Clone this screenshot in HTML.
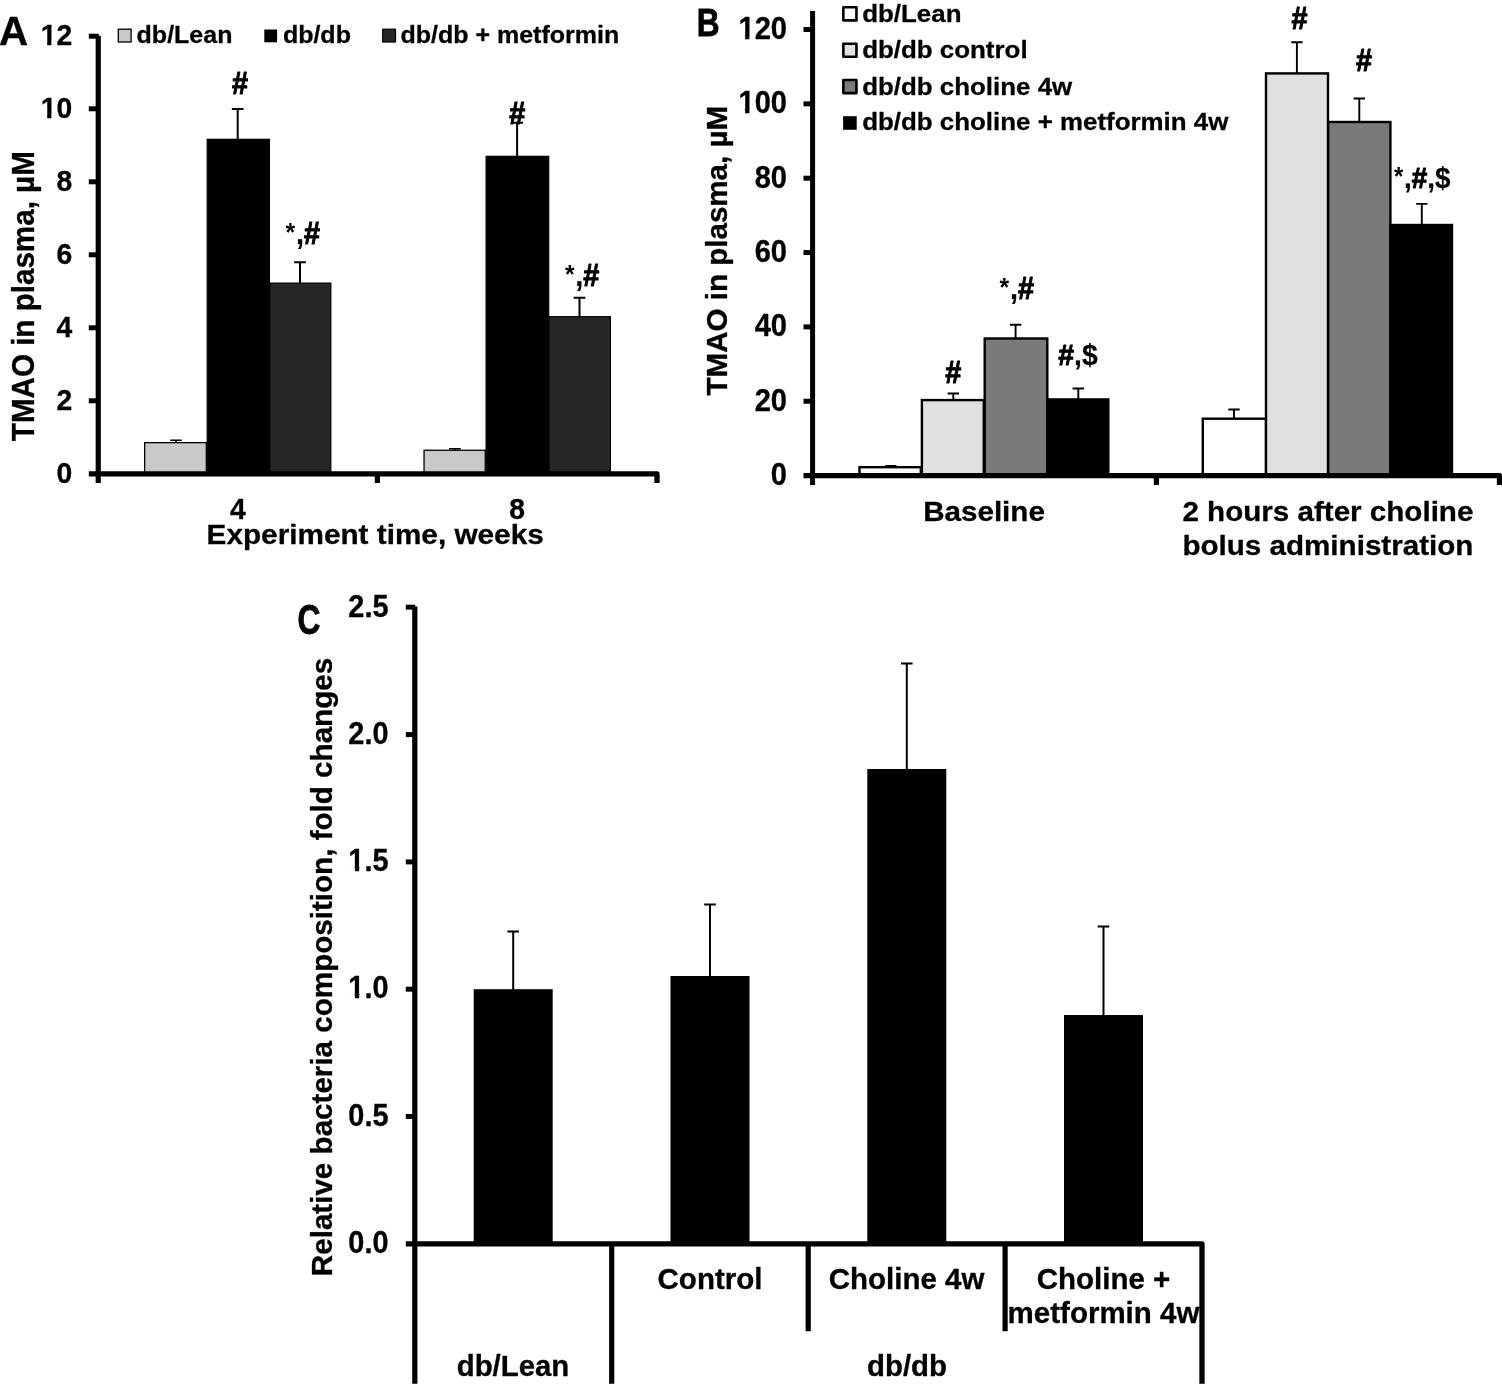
<!DOCTYPE html>
<html lang="en">
<head>
<meta charset="utf-8">
<title>TMAO in plasma and relative bacteria composition</title>
<style>
html,body{margin:0;padding:0;background:#fff;}
body{width:1502px;height:1387px;overflow:hidden;}
svg{display:block;}
svg text{font-family:"Liberation Sans", sans-serif;font-weight:bold;fill:#000;}
</style>
</head>
<body>
<svg width="1502" height="1387" viewBox="0 0 1502 1387">
<rect x="0" y="0" width="1502" height="1387" fill="#fff"/>
<g id="panelA">
<path d="M170.15 440.20H181.85M176.00 440.20V443.00" stroke="#000" stroke-width="1.5" fill="none"/>
<path d="M231.85 109.00H243.55M237.70 109.00V140.00" stroke="#000" stroke-width="2.0" fill="none"/>
<path d="M294.15 262.20H305.85M300.00 262.20V284.00" stroke="#000" stroke-width="2.0" fill="none"/>
<path d="M449.05 448.80H460.75M454.90 448.80V451.00" stroke="#000" stroke-width="1.5" fill="none"/>
<path d="M511.25 122.80H522.95M517.10 122.80V157.00" stroke="#000" stroke-width="2.0" fill="none"/>
<path d="M573.65 297.70H585.35M579.50 297.70V318.00" stroke="#000" stroke-width="2.0" fill="none"/>
<rect x="144.65" y="442.65" width="61.70" height="31.15" fill="#c8c8c8" stroke="#000" stroke-width="1.3"/>
<rect x="269.80" y="283.10" width="61.00" height="190.70" fill="#262626" stroke="#000" stroke-width="1.2"/>
<rect x="207.20" y="139.30" width="62.20" height="334.50" fill="#000" stroke="#000" stroke-width="1.2"/>
<rect x="424.05" y="450.25" width="61.20" height="23.55" fill="#c8c8c8" stroke="#000" stroke-width="1.3"/>
<rect x="549.10" y="316.70" width="61.30" height="157.10" fill="#262626" stroke="#000" stroke-width="1.2"/>
<rect x="486.10" y="156.30" width="62.60" height="317.50" fill="#000" stroke="#000" stroke-width="1.2"/>
<line x1="98.25" y1="35.8" x2="98.25" y2="483" stroke="#000" stroke-width="5.2"/>
<path d="M88.8 473.8H657V483" stroke="#000" stroke-width="5.3" fill="none" stroke-linejoin="round"/>
<text transform="translate(72.2 482.7) scale(1 1.07)" font-size="28.3" text-anchor="end" stroke="#000" stroke-width="0.3" stroke-linejoin="round">0</text>
<line x1="88.8" y1="400.8" x2="98.25" y2="400.8" stroke="#000" stroke-width="5"/>
<text transform="translate(72.2 409.7) scale(1 1.07)" font-size="28.3" text-anchor="end" stroke="#000" stroke-width="0.3" stroke-linejoin="round">2</text>
<line x1="88.8" y1="327.8" x2="98.25" y2="327.8" stroke="#000" stroke-width="5"/>
<text transform="translate(72.2 336.7) scale(1 1.07)" font-size="28.3" text-anchor="end" stroke="#000" stroke-width="0.3" stroke-linejoin="round">4</text>
<line x1="88.8" y1="254.8" x2="98.25" y2="254.8" stroke="#000" stroke-width="5"/>
<text transform="translate(72.2 263.7) scale(1 1.07)" font-size="28.3" text-anchor="end" stroke="#000" stroke-width="0.3" stroke-linejoin="round">6</text>
<line x1="88.8" y1="181.8" x2="98.25" y2="181.8" stroke="#000" stroke-width="5"/>
<text transform="translate(72.2 190.70000000000002) scale(1 1.07)" font-size="28.3" text-anchor="end" stroke="#000" stroke-width="0.3" stroke-linejoin="round">8</text>
<line x1="88.8" y1="108.80000000000001" x2="98.25" y2="108.80000000000001" stroke="#000" stroke-width="5"/>
<text transform="translate(72.2 117.70000000000002) scale(1 1.07)" font-size="28.3" text-anchor="end" stroke="#000" stroke-width="0.3" stroke-linejoin="round">10</text>
<path d="M41.80 113.26H46.68V114.46H47.18V119.20H41.80ZM56.27 113.26H51.86V114.46H51.36V119.20H56.27Z" fill="#fff"/>
<line x1="88.8" y1="36.2" x2="98.75" y2="36.2" stroke="#000" stroke-width="5"/>
<text transform="translate(72.2 44.70000000000001) scale(1 1.07)" font-size="28.3" text-anchor="end" stroke="#000" stroke-width="0.3" stroke-linejoin="round">12</text>
<path d="M41.80 40.26H46.68V41.46H47.18V46.20H41.80ZM56.27 40.26H51.86V41.46H51.36V46.20H56.27Z" fill="#fff"/>
<line x1="377.4" y1="473.8" x2="377.4" y2="483" stroke="#000" stroke-width="5.2"/>
<text transform="translate(237.9 518.8) scale(1 1.04)" font-size="28.3" text-anchor="middle" stroke="#000" stroke-width="0.3" stroke-linejoin="round">4</text>
<text transform="translate(517.2 518.8) scale(1 1.04)" font-size="28.3" text-anchor="middle" stroke="#000" stroke-width="0.3" stroke-linejoin="round">8</text>
<text transform="translate(375.15 544.2) scale(1 0.935)" font-size="29.75" text-anchor="middle" stroke="#000" stroke-width="0.3" stroke-linejoin="round">Experiment time, weeks</text>
<text transform="translate(33.8 296.2) rotate(-90) scale(1 1.045)" font-size="29.6" text-anchor="middle" stroke="#000" stroke-width="0.3" stroke-linejoin="round">TMAO in plasma, µM</text>
<text transform="translate(-1.0 45.2) scale(1 1.015)" font-size="40.3" text-anchor="start" stroke="#000" stroke-width="0.3" stroke-linejoin="round">A</text>
<rect x="118.30" y="29.20" width="12.80" height="12.80" fill="#c8c8c8" stroke="#000" stroke-width="1.3"/>
<text transform="translate(136.6 43.3) scale(1 0.94)" font-size="25" text-anchor="start" stroke="#000" stroke-width="0.3" stroke-linejoin="round">db/Lean</text>
<rect x="264.30" y="29.50" width="12.80" height="12.80" fill="#000"/>
<text transform="translate(282.9 43.3) scale(1 0.94)" font-size="25" text-anchor="start" stroke="#000" stroke-width="0.3" stroke-linejoin="round">db/db</text>
<rect x="382.70" y="29.20" width="12.80" height="12.80" fill="#262626" stroke="#000" stroke-width="1.2"/>
<text transform="translate(400.5 43.3) scale(1 0.94)" font-size="25" text-anchor="start" stroke="#000" stroke-width="0.3" stroke-linejoin="round">db/db + metformin</text>
<text transform="translate(239.9 94.4) scale(0.96 1.03)" font-size="30" text-anchor="middle" stroke="#000" stroke-width="0.2" stroke-linejoin="round"><tspan stroke-width="1.0">#</tspan></text>
<text transform="translate(302 244.4) scale(0.96 1.03)" font-size="30" text-anchor="middle" stroke="#000" stroke-width="0.2" stroke-linejoin="round"><tspan font-size="25.8" dx="0.8" dy="-3" stroke-width="0">*</tspan><tspan dx="0.8" dy="3" stroke-width="0.2">,</tspan><tspan stroke-width="1.0">#</tspan></text>
<text transform="translate(517.3 124.1) scale(0.96 1.03)" font-size="30" text-anchor="middle" stroke="#000" stroke-width="0.2" stroke-linejoin="round"><tspan stroke-width="1.0">#</tspan></text>
<text transform="translate(581.4 285.9) scale(0.96 1.03)" font-size="30" text-anchor="middle" stroke="#000" stroke-width="0.2" stroke-linejoin="round"><tspan font-size="25.8" dx="0.8" dy="-3" stroke-width="0">*</tspan><tspan dx="0.8" dy="3" stroke-width="0.2">,</tspan><tspan stroke-width="1.0">#</tspan></text>
</g>
<g id="panelB">
<path d="M885.20 466.00H896.60M890.90 466.00V468.00" stroke="#000" stroke-width="1.9" fill="none"/>
<path d="M947.60 393.50H959.00M953.30 393.50V401.00" stroke="#000" stroke-width="1.9" fill="none"/>
<path d="M1009.90 324.70H1021.30M1015.60 324.70V339.00" stroke="#000" stroke-width="1.9" fill="none"/>
<path d="M1072.60 388.50H1084.00M1078.30 388.50V401.00" stroke="#000" stroke-width="1.9" fill="none"/>
<path d="M1228.30 409.50H1239.70M1234.00 409.50V419.00" stroke="#000" stroke-width="1.9" fill="none"/>
<path d="M1291.20 42.30H1302.60M1296.90 42.30V75.00" stroke="#000" stroke-width="1.9" fill="none"/>
<path d="M1353.60 98.50H1365.00M1359.30 98.50V123.00" stroke="#000" stroke-width="1.9" fill="none"/>
<path d="M1416.10 203.90H1427.50M1421.80 203.90V225.00" stroke="#000" stroke-width="1.9" fill="none"/>
<rect x="859.50" y="467.20" width="61.30" height="8.40" fill="#fff" stroke="#000" stroke-width="2.4"/>
<rect x="921.90" y="400.10" width="61.90" height="75.50" fill="#e0e0e0" stroke="#000" stroke-width="2.4"/>
<rect x="984.70" y="338.50" width="62.60" height="137.10" fill="#7a7a7a" stroke="#000" stroke-width="2.4"/>
<rect x="1046.10" y="398.20" width="63.40" height="77.40" fill="#000"/>
<rect x="1202.80" y="418.70" width="63.20" height="56.90" fill="#fff" stroke="#000" stroke-width="2.4"/>
<rect x="1266.00" y="73.40" width="62.00" height="402.20" fill="#e0e0e0" stroke="#000" stroke-width="2.4"/>
<rect x="1328.20" y="122.00" width="62.20" height="353.60" fill="#7a7a7a" stroke="#000" stroke-width="2.4"/>
<rect x="1389.30" y="223.80" width="63.90" height="251.80" fill="#000"/>
<line x1="812.6" y1="11" x2="812.6" y2="485" stroke="#000" stroke-width="5.0"/>
<path d="M803.5 475.6H1499.5V485" stroke="#000" stroke-width="5.3" fill="none" stroke-linejoin="round"/>
<text transform="translate(787 485.0) scale(1 1.055)" font-size="29.1" text-anchor="end" stroke="#000" stroke-width="0.3" stroke-linejoin="round">0</text>
<line x1="803.5" y1="401.25" x2="812.6" y2="401.25" stroke="#000" stroke-width="5"/>
<text transform="translate(787 410.65) scale(1 1.055)" font-size="29.1" text-anchor="end" stroke="#000" stroke-width="0.3" stroke-linejoin="round">20</text>
<line x1="803.5" y1="326.90000000000003" x2="812.6" y2="326.90000000000003" stroke="#000" stroke-width="5"/>
<text transform="translate(787 336.3) scale(1 1.055)" font-size="29.1" text-anchor="end" stroke="#000" stroke-width="0.3" stroke-linejoin="round">40</text>
<line x1="803.5" y1="252.55000000000004" x2="812.6" y2="252.55000000000004" stroke="#000" stroke-width="5"/>
<text transform="translate(787 261.95000000000005) scale(1 1.055)" font-size="29.1" text-anchor="end" stroke="#000" stroke-width="0.3" stroke-linejoin="round">60</text>
<line x1="803.5" y1="178.20000000000005" x2="812.6" y2="178.20000000000005" stroke="#000" stroke-width="5"/>
<text transform="translate(787 187.60000000000005) scale(1 1.055)" font-size="29.1" text-anchor="end" stroke="#000" stroke-width="0.3" stroke-linejoin="round">80</text>
<line x1="803.5" y1="103.85000000000002" x2="812.6" y2="103.85000000000002" stroke="#000" stroke-width="5"/>
<text transform="translate(787 113.25000000000003) scale(1 1.055)" font-size="29.1" text-anchor="end" stroke="#000" stroke-width="0.3" stroke-linejoin="round">100</text>
<path d="M739.58 108.77H744.59V109.97H745.09V114.75H739.58ZM754.42 108.77H749.88V109.97H749.38V114.75H754.42Z" fill="#fff"/>
<line x1="803.5" y1="29.500000000000057" x2="812.6" y2="29.500000000000057" stroke="#000" stroke-width="5"/>
<text transform="translate(787 38.900000000000055) scale(1 1.055)" font-size="29.1" text-anchor="end" stroke="#000" stroke-width="0.3" stroke-linejoin="round">120</text>
<path d="M739.58 34.42H744.59V35.62H745.09V40.40H739.58ZM754.42 34.42H749.88V35.62H749.38V40.40H754.42Z" fill="#fff"/>
<line x1="1156.4" y1="475.6" x2="1156.4" y2="485" stroke="#000" stroke-width="5.2"/>
<text transform="translate(984 520.7) scale(1 0.945)" font-size="29.6" text-anchor="middle" stroke="#000" stroke-width="0.3" stroke-linejoin="round">Baseline</text>
<text transform="translate(1327.9 520.7) scale(1 0.945)" font-size="29.6" text-anchor="middle" stroke="#000" stroke-width="0.3" stroke-linejoin="round">2 hours after choline</text>
<text transform="translate(1327.9 554.5) scale(1 0.945)" font-size="29.6" text-anchor="middle" stroke="#000" stroke-width="0.3" stroke-linejoin="round">bolus administration</text>
<text transform="translate(726.8 250.7) rotate(-90) scale(1 1.02)" font-size="29.57" text-anchor="middle" stroke="#000" stroke-width="0.3" stroke-linejoin="round">TMAO in plasma, µM</text>
<text transform="translate(696.7 36.3) scale(0.8 1)" font-size="39.6" text-anchor="start" stroke="#000" stroke-width="0.8" stroke-linejoin="round">B</text>
<rect x="843.35" y="7.30" width="13.1" height="13.1" fill="#fff" stroke="#000" stroke-width="2.6" stroke-linejoin="round"/>
<text transform="translate(862.2 21.5) scale(1 0.95)" font-size="25.9" text-anchor="start" stroke="#000" stroke-width="0.3" stroke-linejoin="round">db/Lean</text>
<rect x="843.35" y="43.70" width="13.1" height="13.1" fill="#e0e0e0" stroke="#000" stroke-width="2.6" stroke-linejoin="round"/>
<text transform="translate(862.2 57.8) scale(1 0.95)" font-size="25.9" text-anchor="start" stroke="#000" stroke-width="0.3" stroke-linejoin="round">db/db control</text>
<rect x="843.35" y="80.00" width="13.1" height="13.1" fill="#7a7a7a" stroke="#000" stroke-width="2.6" stroke-linejoin="round"/>
<text transform="translate(862.2 94.5) scale(1 0.95)" font-size="25.9" text-anchor="start" stroke="#000" stroke-width="0.3" stroke-linejoin="round">db/db choline 4w</text>
<rect x="843.10" y="116.20" width="13.60" height="13.60" fill="#000"/>
<text transform="translate(862.2 130.2) scale(1 0.95)" font-size="25.9" text-anchor="start" stroke="#000" stroke-width="0.3" stroke-linejoin="round">db/db choline + metformin 4w</text>
<text transform="translate(953.3 382.6) scale(0.96 1.03)" font-size="30" text-anchor="middle" stroke="#000" stroke-width="0.2" stroke-linejoin="round"><tspan stroke-width="1.0">#</tspan></text>
<text transform="translate(1016 298.8) scale(0.96 1.03)" font-size="30" text-anchor="middle" stroke="#000" stroke-width="0.2" stroke-linejoin="round"><tspan font-size="25.8" dx="0.8" dy="-3" stroke-width="0">*</tspan><tspan dx="0.8" dy="3" stroke-width="0.2">,</tspan><tspan stroke-width="1.0">#</tspan></text>
<text transform="translate(1078 365) scale(0.96 1.03)" font-size="29.5" text-anchor="middle" stroke="#000" stroke-width="0.2" stroke-linejoin="round"><tspan stroke-width="1.0">#</tspan><tspan stroke-width="0.2">,</tspan><tspan stroke-width="0.2">$</tspan></text>
<text transform="translate(1299.4 29.3) scale(0.96 1.03)" font-size="30" text-anchor="middle" stroke="#000" stroke-width="0.2" stroke-linejoin="round"><tspan stroke-width="1.0">#</tspan></text>
<text transform="translate(1364.1 71.2) scale(0.96 1.03)" font-size="30" text-anchor="middle" stroke="#000" stroke-width="0.2" stroke-linejoin="round"><tspan stroke-width="1.0">#</tspan></text>
<text transform="translate(1421.5 188) scale(0.96 1.03)" font-size="29" text-anchor="middle" stroke="#000" stroke-width="0.2" stroke-linejoin="round"><tspan font-size="24.9" dx="0.8" dy="-3" stroke-width="0">*</tspan><tspan dx="0.8" dy="3" stroke-width="0.2">,</tspan><tspan stroke-width="1.0">#</tspan><tspan stroke-width="0.2">,</tspan><tspan stroke-width="0.2">$</tspan></text>
</g>
<g id="panelC">
<path d="M507.40 931.50H519.00M513.20 931.50V991.20" stroke="#000" stroke-width="2.0" fill="none"/>
<rect x="473.70" y="989.20" width="79.00" height="254.60" fill="#000"/>
<path d="M704.20 904.50H715.80M710.00 904.50V978.00" stroke="#000" stroke-width="2.0" fill="none"/>
<rect x="670.50" y="976.00" width="79.00" height="267.80" fill="#000"/>
<path d="M901.00 663.60H912.60M906.80 663.60V771.00" stroke="#000" stroke-width="2.0" fill="none"/>
<rect x="867.30" y="769.00" width="79.00" height="474.80" fill="#000"/>
<path d="M1097.70 926.50H1109.30M1103.50 926.50V1017.00" stroke="#000" stroke-width="2.0" fill="none"/>
<rect x="1064.00" y="1015.00" width="79.00" height="228.80" fill="#000"/>
<line x1="414.8" y1="606.4" x2="414.8" y2="1383.8" stroke="#000" stroke-width="5.2"/>
<path d="M405.8 1243.8H1202V1383.8" stroke="#000" stroke-width="5.3" fill="none" stroke-linejoin="round"/>
<text transform="translate(388.5 1253.0) scale(1 1.07)" font-size="28.9" text-anchor="end" stroke="#000" stroke-width="0.3" stroke-linejoin="round">0.0</text>
<line x1="405.8" y1="1116.5" x2="414.8" y2="1116.5" stroke="#000" stroke-width="5"/>
<text transform="translate(388.5 1125.7) scale(1 1.07)" font-size="28.9" text-anchor="end" stroke="#000" stroke-width="0.3" stroke-linejoin="round">0.5</text>
<line x1="405.8" y1="989.1999999999999" x2="414.8" y2="989.1999999999999" stroke="#000" stroke-width="5"/>
<text transform="translate(388.5 998.4) scale(1 1.07)" font-size="28.9" text-anchor="end" stroke="#000" stroke-width="0.3" stroke-linejoin="round">1.0</text>
<path d="M349.45 993.89H354.42V995.09H354.92V999.90H349.45ZM364.19 993.89H359.69V995.09H359.19V999.90H364.19Z" fill="#fff"/>
<line x1="405.8" y1="861.9" x2="414.8" y2="861.9" stroke="#000" stroke-width="5"/>
<text transform="translate(388.5 871.1) scale(1 1.07)" font-size="28.9" text-anchor="end" stroke="#000" stroke-width="0.3" stroke-linejoin="round">1.5</text>
<path d="M349.45 866.59H354.42V867.79H354.92V872.60H349.45ZM364.19 866.59H359.69V867.79H359.19V872.60H364.19Z" fill="#fff"/>
<line x1="405.8" y1="734.5999999999999" x2="414.8" y2="734.5999999999999" stroke="#000" stroke-width="5"/>
<text transform="translate(388.5 743.8) scale(1 1.07)" font-size="28.9" text-anchor="end" stroke="#000" stroke-width="0.3" stroke-linejoin="round">2.0</text>
<line x1="405.8" y1="607.15" x2="415.2" y2="607.15" stroke="#000" stroke-width="4.9"/>
<text transform="translate(388.5 616.5) scale(1 1.07)" font-size="28.9" text-anchor="end" stroke="#000" stroke-width="0.3" stroke-linejoin="round">2.5</text>
<line x1="611.7" y1="1243.8" x2="611.7" y2="1383.8" stroke="#000" stroke-width="5.2"/>
<line x1="808.2" y1="1243.8" x2="808.2" y2="1331.2" stroke="#000" stroke-width="5.2"/>
<line x1="1005.1" y1="1243.8" x2="1005.1" y2="1331.2" stroke="#000" stroke-width="5.2"/>
<text x="710" y="1288.8" font-size="29.5" text-anchor="middle" stroke="#000" stroke-width="0.3" stroke-linejoin="round">Control</text>
<text x="906.5" y="1288.8" font-size="29.5" text-anchor="middle" stroke="#000" stroke-width="0.3" stroke-linejoin="round">Choline 4w</text>
<text x="1103.5" y="1288.8" font-size="29.5" text-anchor="middle" stroke="#000" stroke-width="0.3" stroke-linejoin="round">Choline +</text>
<text x="1103.5" y="1322.5" font-size="29.5" text-anchor="middle" stroke="#000" stroke-width="0.3" stroke-linejoin="round">metformin 4w</text>
<text transform="translate(513 1376) scale(1 0.975)" font-size="29.4" text-anchor="middle" stroke="#000" stroke-width="0.3" stroke-linejoin="round">db/Lean</text>
<text transform="translate(907 1376) scale(1 0.975)" font-size="29.4" text-anchor="middle" stroke="#000" stroke-width="0.3" stroke-linejoin="round">db/db</text>
<text transform="translate(331.8 967) rotate(-90)" font-size="29.6" text-anchor="middle" stroke="#000" stroke-width="0.3" stroke-linejoin="round">Relative bacteria composition, fold changes</text>
<text transform="translate(297.6 633.5) scale(0.8 1.057)" font-size="39.6" text-anchor="start" stroke="#000" stroke-width="0.8" stroke-linejoin="round">C</text>
</g>
</svg>
</body>
</html>
